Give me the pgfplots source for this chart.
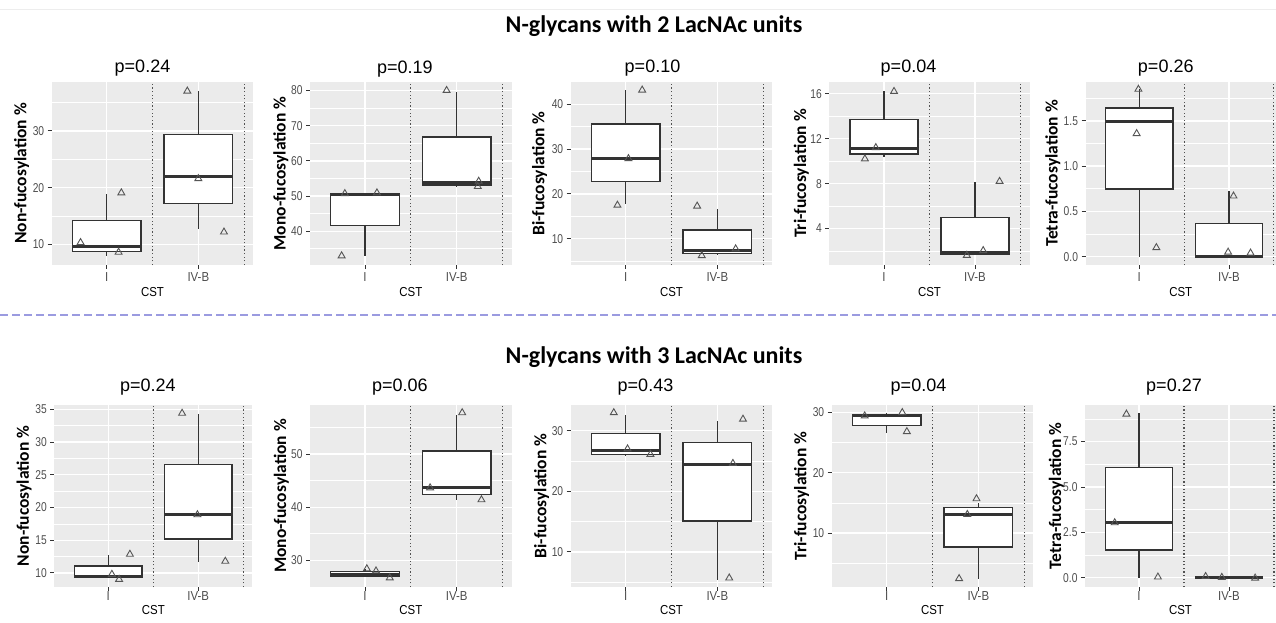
\documentclass[border=0pt]{standalone}
\usepackage{pgfplots}
\pgfplotsset{compat=1.18}
\usepgfplotslibrary{statistics}
\usepackage{fontspec}
\setmainfont{Liberation Sans}
\newfontfamily\narrowfont[FakeStretch=0.80]{Liberation Sans}
\newfontfamily\xnarrowfont[FakeStretch=0.88]{Liberation Sans}
\newfontfamily\carlito{Carlito}
\newcommand{\tickfont}{\narrowfont\fontsize{12.8pt}{15pt}\selectfont}
\newcommand{\xtickfont}{\xnarrowfont\fontsize{13pt}{15pt}\selectfont}
\newcommand{\ylfont}{\carlito\bfseries\fontsize{17.5pt}{19pt}\selectfont}
\newcommand{\ptfont}{\fontsize{18pt}{20pt}\selectfont}
\newcommand{\mtfont}{\carlito\bfseries\fontsize{24pt}{28pt}\selectfont}
\definecolor{ggbg}{HTML}{EBEBEB}
\definecolor{ggdark}{HTML}{333333}
\definecolor{ggtick}{HTML}{4D4D4D}
\definecolor{ptgrey}{HTML}{555555}
\definecolor{dashc}{HTML}{9B9BE0}
\pgfplotsset{
  gg/.style={
    scale only axis, anchor=south west,
    xmin=0.4, xmax=2.6,
    axis background/.style={fill=ggbg},
    axis line style={draw=none},
    xtick={1,2}, xticklabels={I,IV-B},
    xmajorgrids, ymajorgrids, yminorgrids,
    major grid style={white, line width=1.4pt},
    minor grid style={white, line width=0.7pt},
    tick align=outside, major tick length=4pt, minor tick length=0pt,
    xtick pos=left, ytick pos=left,
    tick style={color=ggdark, line width=1pt},
    yticklabel style={font=\tickfont, color=ggtick},
    xticklabel style={font=\xtickfont, color=ggtick},
    /pgf/number format/assume math mode=true,
    xlabel={CST},
    xlabel style={font=\xtickfont, color=black, at={(axis description cs:0.5,0)}, anchor=center},
    ylabel style={font=\ylfont, color=black, anchor=center},
    title style={font=\ptfont, color=black, at={(axis description cs:0.5,1)}, anchor=base},
    boxplot/draw direction=y,
  },
  toprow/.style={gg, height=183pt, xlabel style={yshift=-27pt}, title style={yshift=3pt}},
  botrow/.style={gg, height=182pt, xlabel style={yshift=-23pt}, title style={yshift=8pt},
    xticklabel style={yshift=3pt}},
  yl/.style={ylabel style={at={(axis description cs:#1,0.5)}}},
  bx/.style={draw=ggdark, fill=white, line width=1.4pt, solid,
    boxplot/every median/.style={line width=3pt}},
  pts/.style={only marks, mark=triangle, mark size=4pt,
    mark options={draw=ptgrey, line width=0.9pt, fill=none, solid}},
  vl/.style={ggdark!85, line width=1.2pt, dash pattern=on 1.2pt off 2.4pt},
}
\begin{document}
\begin{tikzpicture}
\useasboundingbox (0pt,0pt) rectangle (1276pt,622pt);
\draw[black!7, line width=1pt] (0pt,612pt) -- (1276pt,612pt);
\draw[dashc, line width=1.5pt, dash pattern=on 8pt off 4pt] (0pt,307pt) -- (1276pt,307pt);
\node[font=\mtfont, anchor=base] at (654pt,589pt) {N-glycans with 2 LacNAc units};
\node[font=\mtfont, anchor=base] at (654pt,259pt) {N-glycans with 3 LacNAc units};

% ---------- Top row ----------
\begin{axis}[toprow, at={(51.7pt,357pt)}, width=201.6pt, ymin=6.4, ymax=38.6,
  ytick={10,20,30}, yticklabels={10,20,30}, minor ytick={15,25,35},
  ylabel={Non-fucosylation \%}, yl=-0.149, title={p=0.24}, title style={xshift=-10pt}]
\addplot[vl] coordinates {(1.5,6.4) (1.5,38.6)};
\addplot[vl] coordinates {(2.5,6.4) (2.5,38.6)};
\addplot[bx, boxplot prepared={draw position=1, lower whisker=7.9, lower quartile=8.77, median=9.65, upper quartile=14.2, upper whisker=18.9, box extend=0.75, whisker extend=0}] coordinates {};
\addplot[bx, boxplot prepared={draw position=2, lower whisker=12.7, lower quartile=17.25, median=21.9, upper quartile=29.4, upper whisker=37.0, box extend=0.75, whisker extend=0}] coordinates {};
\addplot[pts] coordinates {(0.715,10.35) (1.16,19.1) (1.13,8.65) (1.88,37.0) (2.0,21.6) (2.28,12.2)};
\end{axis}

\begin{axis}[toprow, at={(310pt,357pt)}, width=201.7pt, ymin=30.4, ymax=82.4,
  ytick={40,50,60,70,80}, yticklabels={40,50,60,70,80}, minor ytick={35,45,55,65,75},
  ylabel={Mono-fucosylation \%}, yl=-0.145, title={p=0.19}, title style={xshift=-6pt}]
\addplot[vl] coordinates {(1.5,30.4) (1.5,82.4)};
\addplot[vl] coordinates {(2.5,30.4) (2.5,82.4)};
\addplot[bx, boxplot prepared={draw position=1, lower whisker=32.9, lower quartile=41.7, median=50.5, upper quartile=50.7, upper whisker=50.9, box extend=0.75, whisker extend=0}] coordinates {};
\addplot[bx, boxplot prepared={draw position=2, lower whisker=52.7, lower quartile=53.1, median=53.8, upper quartile=66.8, upper whisker=79.7, box extend=0.75, whisker extend=0}] coordinates {};
\addplot[pts] coordinates {(0.745,33.0) (0.78,50.7) (1.13,50.9) (1.89,80.0) (2.24,54.2) (2.23,52.7)};
\end{axis}

\begin{axis}[toprow, at={(570.7pt,357pt)}, width=201.6pt, ymin=4.15, ymax=45.0,
  ytick={10,20,30,40}, yticklabels={10,20,30,40}, minor ytick={5,15,25,35},
  ylabel={Bi-fucosylation \%}, yl=-0.154, title={p=0.10}, title style={xshift=-19pt}]
\addplot[vl] coordinates {(1.5,4.15) (1.5,45)};
\addplot[vl] coordinates {(2.5,4.15) (2.5,45)};
\addplot[bx, boxplot prepared={draw position=1, lower whisker=17.85, lower quartile=22.8, median=27.9, upper quartile=35.6, upper whisker=43.3, box extend=0.75, whisker extend=0}] coordinates {};
\addplot[bx, boxplot prepared={draw position=2, lower whisker=6.3, lower quartile=6.7, median=7.3, upper quartile=12.0, upper whisker=16.7, box extend=0.75, whisker extend=0}] coordinates {};
\addplot[pts] coordinates {(1.18,43.2) (1.03,27.9) (0.91,17.5) (1.78,17.3) (1.83,6.25) (2.2,7.75)};
\end{axis}

\begin{axis}[toprow, at={(829.4pt,357pt)}, width=200.2pt, ymin=0.76, ymax=17.04,
  ytick={4,8,12,16}, yticklabels={4,8,12,16}, minor ytick={2,6,10,14},
  ylabel={Tri-fucosylation \%}, yl=-0.140, title={p=0.04}, title style={xshift=-21pt}]
\addplot[vl] coordinates {(1.5,0.76) (1.5,17.04)};
\addplot[vl] coordinates {(2.5,0.76) (2.5,17.04)};
\addplot[bx, boxplot prepared={draw position=1, lower whisker=10.34, lower quartile=10.63, median=11.08, upper quartile=13.68, upper whisker=16.27, box extend=0.75, whisker extend=0}] coordinates {};
\addplot[bx, boxplot prepared={draw position=2, lower whisker=1.65, lower quartile=1.71, median=1.86, upper quartile=5.0, upper whisker=8.16, box extend=0.75, whisker extend=0}] coordinates {};
\addplot[pts] coordinates {(1.11,16.2) (0.91,11.2) (0.79,10.2) (2.27,8.2) (2.09,2.04) (1.91,1.62)};
\end{axis}

\begin{axis}[toprow, at={(1085.5pt,357pt)}, width=190.5pt, xmax=2.524, ymin=-0.092, ymax=1.93,
  ytick={0,0.5,1,1.5}, yticklabels={0.0,0.5,1.0,1.5}, minor ytick={0.25,0.75,1.25,1.75},
  ylabel={Tetra-fucosylation \%}, yl=-0.172, title={p=0.26}, title style={xshift=-15pt}]
\addplot[vl] coordinates {(1.5,-0.092) (1.5,1.93)};
\addplot[vl] coordinates {(2.5,-0.092) (2.5,1.93)};
\addplot[bx, boxplot prepared={draw position=1, lower whisker=0.0, lower quartile=0.749, median=1.489, upper quartile=1.644, upper whisker=1.855, box extend=0.75, whisker extend=0}] coordinates {};
\addplot[bx, boxplot prepared={draw position=2, lower whisker=0.0, lower quartile=0.0, median=0.002, upper quartile=0.369, upper whisker=0.73, box extend=0.75, whisker extend=0}] coordinates {};
\addplot[pts] coordinates {(0.99,1.85) (0.97,1.36) (1.19,0.10) (2.05,0.67) (1.99,0.05) (2.24,0.04)};
\end{axis}

% ---------- Bottom row ----------
\begin{axis}[botrow, at={(54.3pt,35pt)}, width=198pt, ymin=7.86, ymax=35.66,
  ytick={10,15,20,25,30,35}, yticklabels={10,15,20,25,30,35}, minor ytick={12.5,17.5,22.5,27.5,32.5},
  ylabel={Non-fucosylation \%}, yl=-0.152, title={p=0.24}, title style={xshift=-5.5pt}]
\addplot[vl] coordinates {(1.5,7.86) (1.5,35.66)};
\addplot[vl] coordinates {(2.5,7.86) (2.5,35.66)};
\addplot[bx, boxplot prepared={draw position=1, lower whisker=9.29, lower quartile=9.29, median=9.49, upper quartile=11.07, upper whisker=12.8, box extend=0.75, whisker extend=0}] coordinates {};
\addplot[bx, boxplot prepared={draw position=2, lower whisker=11.63, lower quartile=15.2, median=18.88, upper quartile=26.53, upper whisker=34.34, box extend=0.75, whisker extend=0}] coordinates {};
\addplot[pts] coordinates {(1.24,12.86) (1.04,9.8) (1.12,9.03) (1.82,34.4) (1.99,18.9) (2.30,11.8)};
\end{axis}

\begin{axis}[botrow, at={(310pt,35pt)}, width=201.7pt, ymin=24.97, ymax=59.25,
  ytick={30,40,50}, yticklabels={30,40,50}, minor ytick={35,45,55},
  ylabel={Mono-fucosylation \%}, yl=-0.142, title={p=0.06}, title style={xshift=-11pt}]
\addplot[vl] coordinates {(1.5,24.97) (1.5,59.25)};
\addplot[vl] coordinates {(2.5,24.97) (2.5,59.25)};
\addplot[bx, boxplot prepared={draw position=1, lower whisker=26.8, lower quartile=26.98, median=27.4, upper quartile=27.86, upper whisker=28.4, box extend=0.75, whisker extend=0}] coordinates {};
\addplot[bx, boxplot prepared={draw position=2, lower whisker=41.4, lower quartile=42.39, median=43.65, upper quartile=50.57, upper whisker=57.36, box extend=0.75, whisker extend=0}] coordinates {};
\addplot[pts] coordinates {(1.02,28.4) (1.12,28.0) (1.27,26.7) (2.06,57.8) (1.71,43.65) (2.27,41.4)};
\end{axis}

\begin{axis}[botrow, at={(570.7pt,35pt)}, width=201.6pt, ymin=4.21, ymax=34.24,
  ytick={10,20,30}, yticklabels={10,20,30}, minor ytick={5,15,25},
  ylabel={Bi-fucosylation \%}, yl=-0.144, title={p=0.43}, title style={xshift=-26pt}]
\addplot[vl] coordinates {(1.5,4.21) (1.5,34.24)};
\addplot[vl] coordinates {(2.5,4.21) (2.5,34.24)};
\addplot[bx, boxplot prepared={draw position=1, lower whisker=25.9, lower quartile=26.09, median=26.69, upper quartile=29.56, upper whisker=32.53, box extend=0.75, whisker extend=0}] coordinates {};
\addplot[bx, boxplot prepared={draw position=2, lower whisker=5.43, lower quartile=15.07, median=24.49, upper quartile=28.07, upper whisker=31.54, box extend=0.75, whisker extend=0}] coordinates {};
\addplot[pts] coordinates {(0.87,32.97) (1.02,27.0) (1.27,26.1) (2.28,31.9) (2.17,24.6) (2.13,5.7)};
\end{axis}

\begin{axis}[botrow, at={(831.7pt,35pt)}, width=201.6pt, ymin=1.1, ymax=31.2,
  ytick={10,20,30}, yticklabels={10,20,30}, minor ytick={5,15,25},
  ylabel={Tri-fucosylation \%}, yl=-0.149, title={p=0.04}, title style={xshift=-14pt}]
\addplot[vl] coordinates {(1.5,1.1) (1.5,31.2)};
\addplot[vl] coordinates {(2.5,1.1) (2.5,31.2)};
\addplot[bx, boxplot prepared={draw position=1, lower whisker=26.5, lower quartile=27.8, median=29.45, upper quartile=29.67, upper whisker=29.83, box extend=0.75, whisker extend=0}] coordinates {};
\addplot[bx, boxplot prepared={draw position=2, lower whisker=2.49, lower quartile=7.73, median=13.09, upper quartile=14.25, upper whisker=15.0, box extend=0.75, whisker extend=0}] coordinates {};
\addplot[pts] coordinates {(0.76,29.4) (1.17,29.95) (1.22,26.8) (1.98,15.7) (1.88,13.1) (1.79,2.49)};
\end{axis}

\begin{axis}[botrow, at={(1085pt,35pt)}, width=191pt, xmax=2.522, ymin=-0.51, ymax=9.52,
  ytick={0,2.5,5,7.5}, yticklabels={0.0,2.5,5.0,7.5}, minor ytick={1.25,3.75,6.25,8.75},
  ylabel={Tetra-fucosylation \%}, yl=-0.150, title={p=0.27}, title style={xshift=-6.5pt}]
\addplot[vl] coordinates {(1.5,-0.51) (1.5,9.52)};
\addplot[vl] coordinates {(2.5,-0.51) (2.5,9.52)};
\addplot[bx, boxplot prepared={draw position=1, lower whisker=0.0, lower quartile=1.53, median=3.07, upper quartile=6.07, upper whisker=9.06, box extend=0.75, whisker extend=0}] coordinates {};
\addplot[bx, boxplot prepared={draw position=2, lower whisker=0.0, lower quartile=-0.02, median=0.01, upper quartile=0.04, upper whisker=0.07, box extend=0.75, whisker extend=0}] coordinates {};
\addplot[pts] coordinates {(0.86,9.02) (0.73,3.03) (1.21,0.04) (1.74,0.07) (1.92,0.02) (2.29,-0.02)};
\end{axis}
\end{tikzpicture}
\end{document}
